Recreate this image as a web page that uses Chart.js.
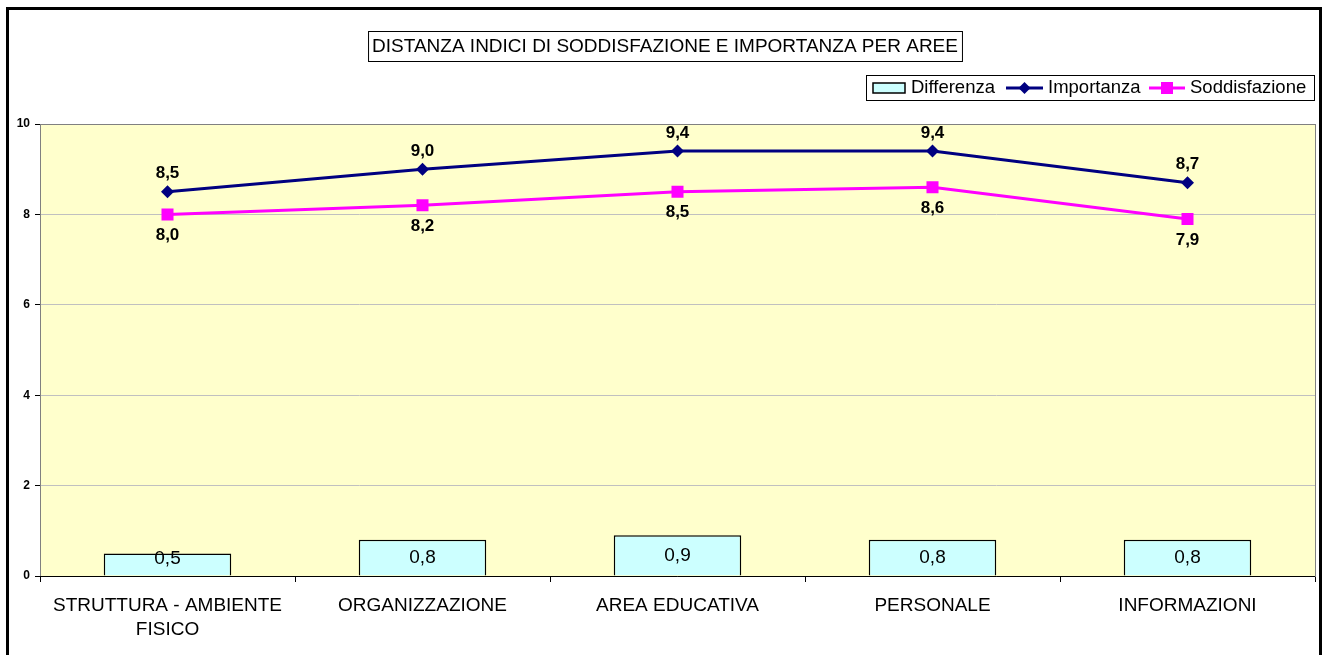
<!DOCTYPE html>
<html>
<head>
<meta charset="utf-8">
<script src="https://cdn.jsdelivr.net/npm/chart.js@4.4.0/dist/chart.umd.min.js"></script>
<style>
  html, body { margin: 0; padding: 0; background: #fff; }
  #wrap { width: 1326px; height: 655px; position: relative; }
</style>
</head>
<body>
<div id="wrap"><canvas id="chart" width="1326" height="655"></canvas></div>
<script>
// data
const categories = [
  ["STRUTTURA - AMBIENTE", "FISICO"],
  "ORGANIZZAZIONE",
  "AREA EDUCATIVA",
  "PERSONALE",
  "INFORMAZIONI",
];
const differenza = [0.5, 0.8, 0.9, 0.8, 0.8];
const importanza = [8.5, 9.0, 9.4, 9.4, 8.7];
const soddisfazione = [8.0, 8.2, 8.5, 8.6, 7.9];
const yTicks = [0, 2, 4, 6, 8, 10];

const chartTitle = "DISTANZA INDICI DI SODDISFAZIONE E IMPORTANZA PER AREE";
const FONT = "'Liberation Sans', Arial, sans-serif";

const fmt = (v) => v.toFixed(1).replace(".", ",");

// frame, plot background, title box, legend, value labels
const excelPlugin = {
  id: "excelPlugin",
  beforeDraw(chart) {
    const { ctx, chartArea: a } = chart;
    ctx.save();
    ctx.fillStyle = "#fff";
    ctx.fillRect(0, 0, chart.width, chart.height);
    // outer frame
    ctx.strokeStyle = "#000";
    ctx.lineWidth = 3;
    ctx.strokeRect(7.5, 8.5, 1313, 660);
    // plot area
    ctx.fillStyle = "#FFFFCC";
    ctx.fillRect(a.left, a.top, a.right - a.left, a.bottom - a.top);
    ctx.restore();
  },
  afterDatasetsDraw(chart) {
    const { ctx, chartArea: a } = chart;
    ctx.save();
    // plot border
    ctx.strokeStyle = "#808080";
    ctx.lineWidth = 1;
    ctx.strokeRect(a.left + 0.5, a.top + 0.5, a.right - a.left, a.bottom - a.top);
    ctx.strokeStyle = "#000";
    ctx.beginPath();
    ctx.moveTo(a.left, a.bottom + 0.5);
    ctx.lineTo(a.right, a.bottom + 0.5);
    ctx.stroke();

    // title box
    ctx.font = "19px " + FONT;
    ctx.textBaseline = "middle";
    ctx.textAlign = "center";
    const tw = ctx.measureText(chartTitle).width;
    const cx = 665;
    ctx.fillStyle = "#fff";
    ctx.fillRect(cx - tw / 2 - 4, 31, tw + 8, 30);
    ctx.strokeRect(cx - tw / 2 - 4 + 0.5, 31.5, tw + 8, 30);
    ctx.fillStyle = "#000";
    ctx.fillText(chartTitle, cx, 47);

    // legend
    ctx.fillStyle = "#fff";
    ctx.fillRect(866, 75, 448, 25);
    ctx.strokeRect(866.5, 75.5, 448, 25);
    ctx.font = "18.5px " + FONT;
    ctx.textAlign = "left";
    ctx.fillStyle = "#CCFFFF";
    ctx.fillRect(873, 83, 32, 10);
    ctx.lineWidth = 1.5;
    ctx.strokeStyle = "#000";
    ctx.strokeRect(873, 83, 32, 10);
    ctx.fillStyle = "#000";
    ctx.fillText("Differenza", 911, 88);

    ctx.strokeStyle = "#000080";
    ctx.lineWidth = 3;
    ctx.beginPath();
    ctx.moveTo(1006, 88);
    ctx.lineTo(1043, 88);
    ctx.stroke();
    ctx.fillStyle = "#000080";
    ctx.beginPath();
    ctx.moveTo(1024.5, 82);
    ctx.lineTo(1030.5, 88);
    ctx.lineTo(1024.5, 94);
    ctx.lineTo(1018.5, 88);
    ctx.closePath();
    ctx.fill();
    ctx.fillStyle = "#000";
    ctx.fillText("Importanza", 1048, 88);

    ctx.strokeStyle = "#FF00FF";
    ctx.beginPath();
    ctx.moveTo(1149, 88);
    ctx.lineTo(1185, 88);
    ctx.stroke();
    ctx.fillStyle = "#FF00FF";
    ctx.fillRect(1161, 82, 12, 12);
    ctx.fillStyle = "#000";
    ctx.fillText("Soddisfazione", 1190, 88);

    // value labels
    ctx.textAlign = "center";
    const yScale = chart.scales.y;
    const base = yScale.getPixelForValue(0);
    ctx.font = "19px " + FONT;
    chart.getDatasetMeta(0).data.forEach((bar, i) => {
      const y = Math.min((bar.y + base) / 2, base - 17);
      ctx.fillText(fmt(differenza[i]), bar.x, y);
    });
    ctx.font = "bold 17px " + FONT;
    chart.getDatasetMeta(1).data.forEach((p, i) => {
      ctx.fillText(fmt(importanza[i]), p.x, p.y - 18);
    });
    chart.getDatasetMeta(2).data.forEach((p, i) => {
      ctx.fillText(fmt(soddisfazione[i]), p.x, p.y + 21);
    });
    ctx.restore();
  },
};

new Chart(document.getElementById("chart").getContext("2d"), {
  type: "bar",
  data: {
    labels: categories,
    datasets: [
      {
        label: "Differenza",
        data: differenza,
        backgroundColor: "#CCFFFF",
        borderColor: "#000",
        borderWidth: 1.5,
        barPercentage: 1,
        categoryPercentage: 0.5,
        order: 3,
      },
      {
        type: "line",
        label: "Importanza",
        data: importanza,
        borderColor: "#000080",
        backgroundColor: "#000080",
        borderWidth: 3,
        pointStyle: "rectRot",
        pointRadius: 6.5,
        pointBorderWidth: 0,
        tension: 0,
        order: 1,
      },
      {
        type: "line",
        label: "Soddisfazione",
        data: soddisfazione,
        borderColor: "#FF00FF",
        backgroundColor: "#FF00FF",
        borderWidth: 3,
        pointStyle: "rect",
        pointRadius: 8.5,
        pointBorderWidth: 0,
        tension: 0,
        order: 2,
      },
    ],
  },
  options: {
    responsive: false,
    animation: false,
    events: [],
    layout: { padding: { left: 6, right: 11, top: 124, bottom: 0 } },
    plugins: {
      legend: { display: false },
      title: { display: false },
      tooltip: { enabled: false },
    },
    scales: {
      x: {
        offset: true,
        afterFit: (s) => { s.height = 79; },
        grid: {
          offset: true,
          drawOnChartArea: false,
          drawTicks: true,
          tickLength: 6,
          tickColor: "#000",
        },
        border: { display: false },
        ticks: {
          color: "#000",
          padding: 11,
          maxRotation: 0,
          font: { family: FONT, size: 19, lineHeight: 1.3 },
        },
      },
      y: {
        min: 0,
        max: 10,
        afterFit: (s) => { s.width = 34; },
        afterBuildTicks: (s) => { s.ticks = yTicks.map((v) => ({ value: v })); },
        grid: {
          color: "#C0C0C0",
          lineWidth: 1,
          tickLength: 5,
          tickColor: "#000",
        },
        border: { display: true, color: "#808080" },
        ticks: {
          color: "#000",
          padding: 5,
          font: { family: FONT, size: 12, weight: "bold" },
        },
      },
    },
  },
  plugins: [excelPlugin],
});
</script>
</body>
</html>
